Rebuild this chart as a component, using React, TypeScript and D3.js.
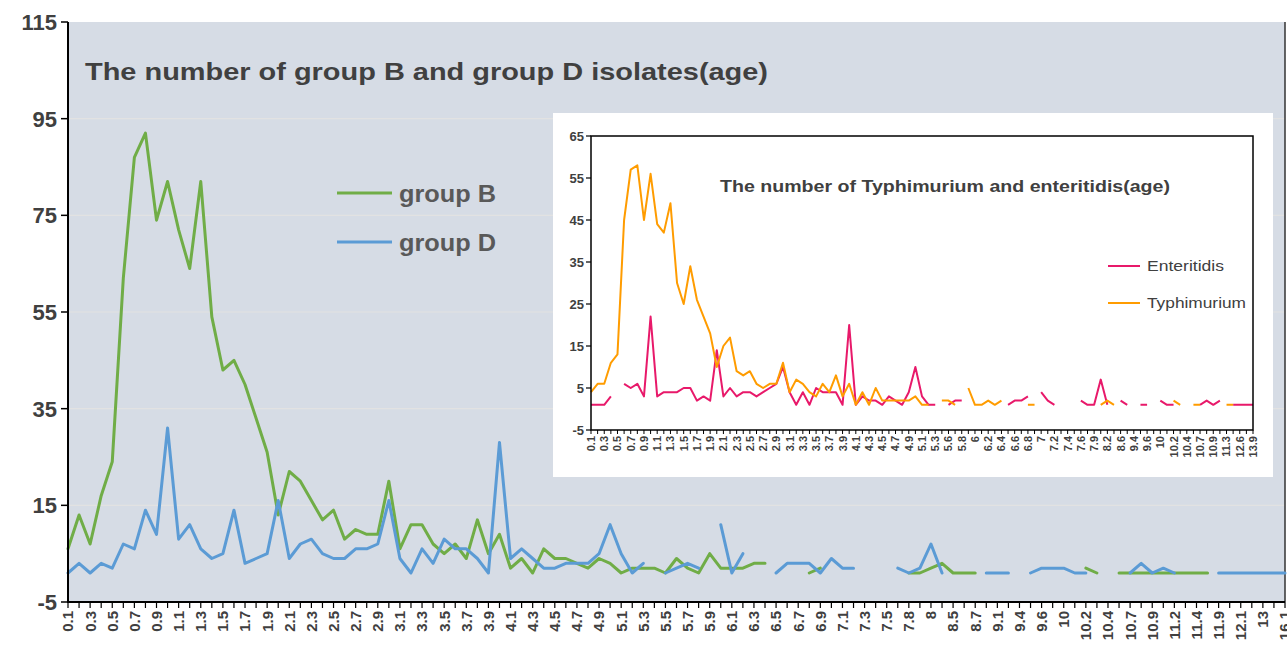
import React from "react";
import * as d3 from "d3";

// ---------- Main chart data ----------
const mainAges: string[] = [
  "0.1","0.2","0.3","0.4","0.5","0.6","0.7","0.8","0.9","1",
  "1.1","1.2","1.3","1.4","1.5","1.6","1.7","1.8","1.9","2",
  "2.1","2.2","2.3","2.4","2.5","2.6","2.7","2.8","2.9","3",
  "3.1","3.2","3.3","3.4","3.5","3.6","3.7","3.8","3.9","4",
  "4.1","4.2","4.3","4.4","4.5","4.6","4.7","4.8","4.9","5",
  "5.1","5.2","5.3","5.4","5.5","5.6","5.7","5.8","5.9","6",
  "6.1","6.2","6.3","6.4","6.5","6.6","6.7","6.8","6.9","7",
  "7.1","7.2","7.3","7.4","7.5","7.6","7.8","7.9","8","8.2",
  "8.5","8.6","8.7","8.9","9.1","9.2","9.4","9.5","9.6","9.8",
  "10","10.1","10.2","10.3","10.4","10.5","10.7","10.8","10.9","11.1",
  "11.2","11.3","11.4","11.6","11.9","12","12.1","12.6","13","13.9",
  "16.1"
];

const groupB: (number | null)[] = [
  6,13,7,17,24,62,87,92,74,82,
  72,64,82,54,43,45,40,33,26,13,
  22,20,16,12,14,8,10,9,9,20,
  6,11,11,7,5,7,4,12,5,9,
  2,4,1,6,4,4,3,2,4,3,
  1,2,2,2,1,4,2,1,5,2,
  2,2,3,3,null,null,null,1,2,null,
  null,null,null,null,null,null,1,1,2,3,
  1,1,1,null,null,null,null,null,null,null,
  null,null,2,1,null,1,1,1,1,1,
  1,1,1,1,null,null,null,null,null,null,
  null
];

const groupD: (number | null)[] = [
  1,3,1,3,2,7,6,14,9,31,
  8,11,6,4,5,14,3,4,5,16,
  4,7,8,5,4,4,6,6,7,16,
  4,1,6,3,8,6,6,4,1,28,
  4,6,4,2,2,3,3,3,5,11,
  5,1,3,null,1,2,3,2,null,11,
  1,5,null,null,1,3,3,3,1,4,
  2,2,null,null,null,2,1,2,7,1,
  null,null,null,1,1,1,null,1,2,2,
  2,1,1,null,null,null,1,3,1,2,
  1,null,null,null,1,1,1,1,1,1,
  1
];

const mainYTicks = [-5, 15, 35, 55, 75, 95, 115];

// ---------- Inset chart data ----------
const insetAges: string[] = [
  "0.1","0.2","0.3","0.4","0.5","0.6","0.7","0.8","0.9","1",
  "1.1","1.2","1.3","1.4","1.5","1.6","1.7","1.8","1.9","2",
  "2.1","2.2","2.3","2.4","2.5","2.6","2.7","2.8","2.9","3",
  "3.1","3.2","3.3","3.4","3.5","3.6","3.7","3.8","3.9","4",
  "4.1","4.2","4.3","4.4","4.5","4.6","4.7","4.8","4.9","5",
  "5.1","5.2","5.3","5.5","5.6","5.7","5.8","5.9","6","6.1",
  "6.2","6.3","6.4","6.5","6.6","6.7","6.8","6.9","7","7.1",
  "7.2","7.3","7.4","7.5","7.6","7.8","7.9","8","8.2","8.5",
  "8.6","9.1","9.4","9.5","9.6","9.8","10","10.1","10.2","10.3",
  "10.4","10.5","10.7","10.8","10.9","11.2","11.3","11.9","12.6","13",
  "13.9"
];

const typhimurium: (number | null)[] = [
  4,6,6,11,13,45,57,58,45,56,
  44,42,49,30,25,34,26,22,18,10,
  15,17,9,8,9,6,5,6,6,11,
  4,7,6,4,3,6,4,8,3,6,
  1,4,1,5,2,2,2,2,2,3,
  1,1,null,2,2,1,null,5,1,1,
  2,1,2,null,null,null,1,1,null,null,
  null,null,null,null,null,null,null,1,2,1,
  null,null,null,null,null,null,null,null,2,1,
  null,1,1,null,null,null,1,1,null,null,
  null
];

const enteritidis: (number | null)[] = [
  1,1,1,3,null,6,5,6,3,22,
  3,4,4,4,5,5,2,3,2,14,
  3,5,3,4,4,3,4,5,6,10,
  4,1,4,1,5,4,4,4,1,20,
  1,3,2,2,1,3,2,1,4,10,
  3,1,1,null,1,2,2,null,null,null,
  null,null,null,1,2,2,3,null,4,2,
  1,null,null,null,2,1,1,7,1,null,
  2,1,null,1,1,null,2,1,1,null,
  null,null,1,2,1,2,null,1,1,1,
  1
];

const insetYTicks = [-5, 5, 15, 25, 35, 45, 55, 65];

const C_GREEN = "#70AD47";
const C_BLUE = "#5B9BD5";
const C_PINK = "#E8196A";
const C_ORANGE = "#FF9C00";

const BOLD_FONT = "'Liberation Sans', Arial, sans-serif";
const NARROW_FONT = "'Liberation Sans Narrow', 'Liberation Sans', Arial, sans-serif";

export default function App() {
  const W = 1287, H = 650;

  // main plot geometry
  const mL = 68, mR = 1285, mT = 22, mB = 602;
  const x = d3.scalePoint<string>().domain(mainAges).range([mL, mR]).padding(0);
  const y = d3.scaleLinear().domain([-5, 115]).range([mB, mT]);
  const mkLine = (vals: (number | null)[]) =>
    d3.line<number | null>()
      .defined((d) => d !== null)
      .x((_, i) => x(mainAges[i]) as number)
      .y((d) => y(d as number))(vals) || "";

  // inset geometry
  const iBoxL = 553, iBoxR = 1273, iBoxT = 113, iBoxB = 477;
  const iL = 591, iR = 1253, iT = 136, iB = 430;
  const xi = d3.scalePoint<string>().domain(insetAges).range([iL, iR]).padding(0);
  const yi = d3.scaleLinear().domain([-5, 65]).range([iB, iT]);
  const mkInset = (vals: (number | null)[]) =>
    d3.line<number | null>()
      .defined((d) => d !== null)
      .x((_, i) => xi(insetAges[i]) as number)
      .y((d) => yi(d as number))(vals) || "";

  return (
    <svg width={W} height={H} style={{ position: "absolute", left: 0, top: 0, background: "#fff" }}>
      {/* main plot background */}
      <rect x={mL} y={mT} width={mR - mL} height={mB - mT} fill="#D6DCE5" />
      {/* gridlines */}
      {mainYTicks.slice(1, -1).map((t) => (
        <line key={"g" + t} x1={mL} x2={mR} y1={y(t)} y2={y(t)} stroke="#E2E2E2" strokeWidth={1.2} />
      ))}
      {/* right border */}
      <line x1={mR} x2={mR} y1={mT} y2={mB} stroke="#333" strokeWidth={1.5} />

      {/* title */}
      <text x={85} y={80} fontFamily={BOLD_FONT} fontWeight="bold" fontSize={24} fill="#404040"
        textLength={683} lengthAdjust="spacingAndGlyphs">
        The number of group B and group D isolates(age)
      </text>

      {/* legend */}
      <line x1={337} x2={392} y1={193} y2={193} stroke={C_GREEN} strokeWidth={3} />
      <text x={399} y={202} fontFamily={BOLD_FONT} fontWeight="bold" fontSize={24} fill="#595959"
        textLength={97} lengthAdjust="spacingAndGlyphs">group B</text>
      <line x1={337} x2={392} y1={242} y2={242} stroke={C_BLUE} strokeWidth={3} />
      <text x={399} y={251} fontFamily={BOLD_FONT} fontWeight="bold" fontSize={24} fill="#595959"
        textLength={97} lengthAdjust="spacingAndGlyphs">group D</text>

      {/* main series */}
      <path d={mkLine(groupB)} fill="none" stroke={C_GREEN} strokeWidth={3} strokeLinejoin="round" strokeLinecap="round" />
      <path d={mkLine(groupD)} fill="none" stroke={C_BLUE} strokeWidth={3} strokeLinejoin="round" strokeLinecap="round" />

      {/* main axes */}
      <line x1={mL} x2={mL} y1={mT} y2={mB + 1} stroke="#000" strokeWidth={2} />
      <line x1={mL} x2={mR} y1={mB} y2={mB} stroke="#000" strokeWidth={2} />
      {mainYTicks.map((t) => (
        <g key={"yt" + t}>
          <line x1={mL - 7} x2={mL} y1={y(t)} y2={y(t)} stroke="#000" strokeWidth={1.5} />
          <text x={57} y={y(t)} dy="0.36em" textAnchor="end" fontFamily={BOLD_FONT} fontWeight="bold"
            fontSize={22} fill="#404040">{t}</text>
        </g>
      ))}
      {mainAges.map((a, i) => (
        <g key={"xt" + i}>
          <line x1={x(a)} x2={x(a)} y1={mB} y2={mB + 6} stroke="#000" strokeWidth={1.2} />
          {i % 2 === 0 && (
            <text transform={`translate(${x(a)},${mB + 9}) rotate(-90)`} textAnchor="end" dy="0.36em"
              fontFamily={BOLD_FONT} fontWeight="bold" fontSize={15} fill="#404040">{a}</text>
          )}
        </g>
      ))}

      {/* ---------- inset ---------- */}
      <rect x={iBoxL} y={iBoxT} width={iBoxR - iBoxL} height={iBoxB - iBoxT} fill="#fff" />
      <text x={945} y={192} textAnchor="middle" fontFamily={NARROW_FONT} fontWeight="bold" fontSize={17}
        fill="#404040" textLength={450} lengthAdjust="spacingAndGlyphs">
        The  number of Typhimurium and enteritidis(age)
      </text>
      <line x1={1108} x2={1140} y1={266} y2={266} stroke={C_PINK} strokeWidth={2} />
      <text x={1147} y={271} fontFamily={NARROW_FONT} fontSize={15} fill="#404040"
        textLength={77} lengthAdjust="spacingAndGlyphs">Enteritidis</text>
      <line x1={1108} x2={1140} y1={303} y2={303} stroke={C_ORANGE} strokeWidth={2} />
      <text x={1147} y={308} fontFamily={NARROW_FONT} fontSize={15} fill="#404040"
        textLength={99} lengthAdjust="spacingAndGlyphs">Typhimurium</text>

      <path d={mkInset(enteritidis)} fill="none" stroke={C_PINK} strokeWidth={2} strokeLinejoin="round" />
      <path d={mkInset(typhimurium)} fill="none" stroke={C_ORANGE} strokeWidth={2} strokeLinejoin="round" />

      {/* inset frame */}
      <rect x={iL} y={iT} width={iR - iL} height={iB - iT} fill="none" stroke="#000" strokeWidth={1.5} />
      {insetYTicks.map((t) => (
        <g key={"iyt" + t}>
          <line x1={iL - 5} x2={iL} y1={yi(t)} y2={yi(t)} stroke="#000" strokeWidth={1.2} />
          <text x={584} y={yi(t)} dy="0.36em" textAnchor="end" fontFamily={NARROW_FONT} fontWeight="bold"
            fontSize={13} fill="#404040">{t}</text>
        </g>
      ))}
      {insetAges.map((a, i) => (
        <g key={"ixt" + i}>
          <line x1={xi(a)} x2={xi(a)} y1={iB} y2={iB + 4} stroke="#000" strokeWidth={1} />
          {i % 2 === 0 && (
            <text transform={`translate(${xi(a)},${iB + 6}) rotate(-90)`} textAnchor="end" dy="0.36em"
              fontFamily={NARROW_FONT} fontWeight="bold" fontSize={11} fill="#404040">{a}</text>
          )}
        </g>
      ))}
    </svg>
  );
}
